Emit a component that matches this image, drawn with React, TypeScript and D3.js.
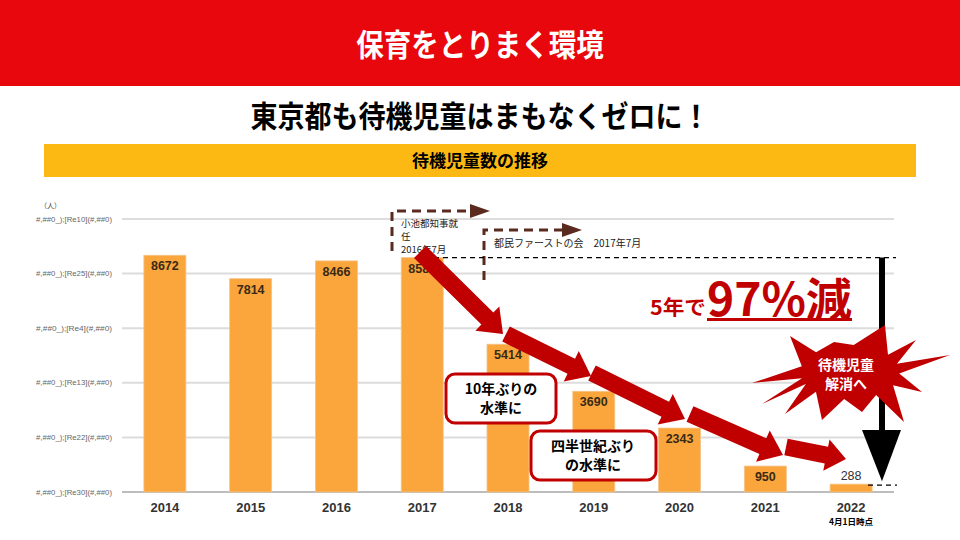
import React from "react";
import * as d3 from "d3";

const years = ["2014", "2015", "2016", "2017", "2018", "2019", "2020", "2021", "2022"];
const waiting = [8672, 7814, 8466, 8586, 5414, 3690, 2343, 950, 288];
const yTicks = [0, 2000, 4000, 6000, 8000, 10000];
const yTickLabels = [
  "#,##0_);[Re30](#,##0)",
  "#,##0_);[Re22](#,##0)",
  "#,##0_);[Re13](#,##0)",
  "#,##0_);[Re4](#,##0)",
  "#,##0_);[Re25](#,##0)",
  "#,##0_);[Re10](#,##0)",
];

const FONT = "'Noto Sans CJK JP', 'Noto Sans', sans-serif";
const LAT = "'Liberation Sans', Arial, sans-serif";
const DARKRED = "#C00000";

function arrowPoly(x1: number, y1: number, x2: number, y2: number, sw = 17, hw = 34, hl = 22) {
  const dx = x2 - x1, dy = y2 - y1;
  const L = Math.hypot(dx, dy);
  const ux = dx / L, uy = dy / L;
  const nx = -uy, ny = ux;
  const bx = x2 - ux * hl, by = y2 - uy * hl;
  const p = [
    [x1 + nx * sw / 2, y1 + ny * sw / 2],
    [bx + nx * sw / 2, by + ny * sw / 2],
    [bx + nx * hw / 2, by + ny * hw / 2],
    [x2, y2],
    [bx - nx * hw / 2, by - ny * hw / 2],
    [bx - nx * sw / 2, by - ny * sw / 2],
    [x1 - nx * sw / 2, y1 - ny * sw / 2],
  ];
  return p.map((q) => q.join(",")).join(" ");
}

export default function App() {
  const W = 960, H = 540;
  const x = d3.scaleBand<string>().domain(years).range([122, 894]).paddingInner(0.51).paddingOuter(0.255);
  const y = d3.scaleLinear().domain([0, 10000]).range([492, 219]);
  const bw = x.bandwidth();
  const cx = (i: number) => (x(years[i]) as number) + bw / 2;

  // starburst
  const sc = [850, 372];
  const outer = [
    [752, 383], [790, 336], [834, 342], [885, 325], [916, 340], [950, 355],
    [922, 392], [904, 422], [862, 412], [822, 420], [785, 414], [762, 404],
  ];
  const starPts: number[][] = [];
  outer.forEach((p, i) => {
    starPts.push(p);
    const q = outer[(i + 1) % outer.length];
    const a1 = Math.atan2(p[1] - sc[1], p[0] - sc[0]);
    let a2 = Math.atan2(q[1] - sc[1], q[0] - sc[0]);
    if (a2 < a1) a2 += Math.PI * 2;
    const am = (a1 + a2) / 2;
    const r = 34;
    starPts.push([sc[0] + Math.cos(am) * r * 1.45, sc[1] + Math.sin(am) * r * 0.8]);
  });

  const y2017 = y(waiting[3]);
  const y2022 = y(waiting[8]);

  return (
    <svg width={W} height={H} style={{ position: "absolute", left: 0, top: 0, background: "#fff" }}>
      <rect x={0} y={0} width={W} height={H} fill="#fff" />
      {/* header */}
      <rect x={0} y={0} width={W} height={86} fill="#E8070C" />
      <g transform="translate(480,56) scale(1.02,1.12)">
        <text x={0} y={0} textAnchor="middle" fill="#fff" fontFamily={FONT} fontWeight="bold" fontSize={27}>
          保育をとりまく環境
        </text>
      </g>
      <g transform="translate(480,127) scale(1,1.1)">
        <text x={0} y={0} textAnchor="middle" fill="#000" fontFamily={FONT} fontWeight="bold" fontSize={27}>
          東京都も待機児童はまもなくゼロに！
        </text>
      </g>
      <rect x={44} y={144} width={872} height={33} fill="#FDB913" />
      <text x={480} y={167} textAnchor="middle" fill="#000" fontFamily={FONT} fontWeight="bold" fontSize={17}>
        待機児童数の推移
      </text>

      {/* axis */}
      <text x={40} y={208} fontSize={7} fill="#444" fontFamily={FONT}>（人）</text>
      {yTicks.map((t, i) => (
        <g key={t}>
          <line x1={122} x2={894} y1={y(t)} y2={y(t)} stroke={i === 0 ? "#bdbdbd" : "#dcdcdc"} strokeWidth={2} />
          <text x={112} y={y(t) + 2.5} textAnchor="end" fontSize={7} fill="#666" fontFamily={LAT}
            textLength={76} lengthAdjust="spacingAndGlyphs">
            {yTickLabels[i]}
          </text>
        </g>
      ))}

      {/* bars */}
      {waiting.map((v, i) => (
        <rect key={years[i]} x={x(years[i])} y={y(v)} width={bw} height={y(0) - y(v)} fill="#FAA63C" stroke="#F3C58C" strokeWidth={0.8} />
      ))}
      {waiting.map((v, i) => {
        const h = y(0) - y(v);
        const inside = h > 20;
        return (
          <text key={"l" + i} x={cx(i)} y={inside ? y(v) + 15 : y(v) - 4} textAnchor="middle"
            fontSize={12.5} fontWeight={inside ? "bold" : "normal"} fill={inside ? "#3a2a14" : "#333"} fontFamily={LAT}>
            {v}
          </text>
        );
      })}
      {years.map((yr, i) => (
        <text key={yr} x={cx(i)} y={512} textAnchor="middle" fontSize={13} fontWeight="bold" fill="#333" fontFamily={LAT}>
          {yr}
        </text>
      ))}
      <text x={cx(8)} y={525} textAnchor="middle" fontSize={8.5} fontWeight="bold" fill="#000" fontFamily={FONT}>4月1日時点</text>

      {/* event annotations */}
      <path d="M392,251 V211 H470" fill="none" stroke="#5B2A1E" strokeWidth={3} strokeDasharray="9,6" />
      <polygon points="470,204 490,211 470,218" fill="#5B2A1E" />
      <text x={401} y={227} fontSize={9.5} fill="#222" fontFamily={FONT}>小池都知事就</text>
      <text x={401} y={240} fontSize={9.5} fill="#222" fontFamily={FONT}>任</text>
      <text x={401} y={253} fontSize={9.5} fill="#222" fontFamily={FONT}>2016年7月</text>

      <path d="M484,280 V230 H562" fill="none" stroke="#5B2A1E" strokeWidth={3} strokeDasharray="9,6" />
      <polygon points="562,223 582,230 562,237" fill="#5B2A1E" />
      <text x={494} y={247} fontSize={10} fill="#222" fontFamily={FONT}>都民ファーストの会　2017年7月</text>

      {/* dashed reference lines */}
      <line x1={425} x2={896} y1={y2017} y2={y2017} stroke="#000" strokeWidth={1.3} strokeDasharray="5,4" />
      <line x1={868} x2={897} y1={y2022 + 1} y2={y2022 + 1} stroke="#000" strokeWidth={1.3} strokeDasharray="5,4" />

      {/* black down arrow */}
      <line x1={882} x2={882} y1={y2017} y2={432} stroke="#000" strokeWidth={6} />
      <polygon points={`862,430 901,430 882,${y2022 - 3}`} fill="#000" />

      {/* red trend arrows */}
      <polygon points={arrowPoly(420, 252, 503, 334)} fill={DARKRED} />
      <polygon points={arrowPoly(506, 334, 591, 376)} fill={DARKRED} />
      <polygon points={arrowPoly(592, 373, 685, 419)} fill={DARKRED} />
      <polygon points={arrowPoly(690, 414, 783, 455)} fill={DARKRED} />
      <polygon points={arrowPoly(786, 447, 846, 459, 17, 32, 20)} fill={DARKRED} />

      {/* callout boxes */}
      <rect x={446} y={374} width={110} height={49} rx={9} fill="#fff" stroke={DARKRED} strokeWidth={3} />
      <text x={501} y={394} textAnchor="middle" fontSize={14} fontWeight="bold" fill="#000" fontFamily={FONT}>10年ぶりの</text>
      <text x={501} y={413} textAnchor="middle" fontSize={14} fontWeight="bold" fill="#000" fontFamily={FONT}>水準に</text>

      <rect x={531} y={431} width={125} height={49} rx={9} fill="#fff" stroke={DARKRED} strokeWidth={3} />
      <text x={593} y={451} textAnchor="middle" fontSize={14} fontWeight="bold" fill="#000" fontFamily={FONT}>四半世紀ぶり</text>
      <text x={593} y={470} textAnchor="middle" fontSize={14} fontWeight="bold" fill="#000" fontFamily={FONT}>の水準に</text>

      {/* 97% reduction */}
      <text x={650} y={315} fontSize={20} fontWeight="bold" fill={DARKRED} fontFamily={FONT} textLength={56} lengthAdjust="spacingAndGlyphs">5年で</text>
      <text x={707} y={316} fontSize={46} fontWeight="bold" fill={DARKRED} fontFamily={FONT} textLength={145} lengthAdjust="spacingAndGlyphs">97%減</text>
      <rect x={707} y={318} width={145} height={3} fill={DARKRED} />

      {/* starburst */}
      <polygon points={starPts.map((p) => p.join(",")).join(" ")} fill={DARKRED} />
      <text x={846} y={370} textAnchor="middle" fontSize={14} fontWeight="bold" fill="#fff" fontFamily={FONT}>待機児童</text>
      <text x={846} y={389} textAnchor="middle" fontSize={14} fontWeight="bold" fill="#fff" fontFamily={FONT}>解消へ</text>
    </svg>
  );
}
